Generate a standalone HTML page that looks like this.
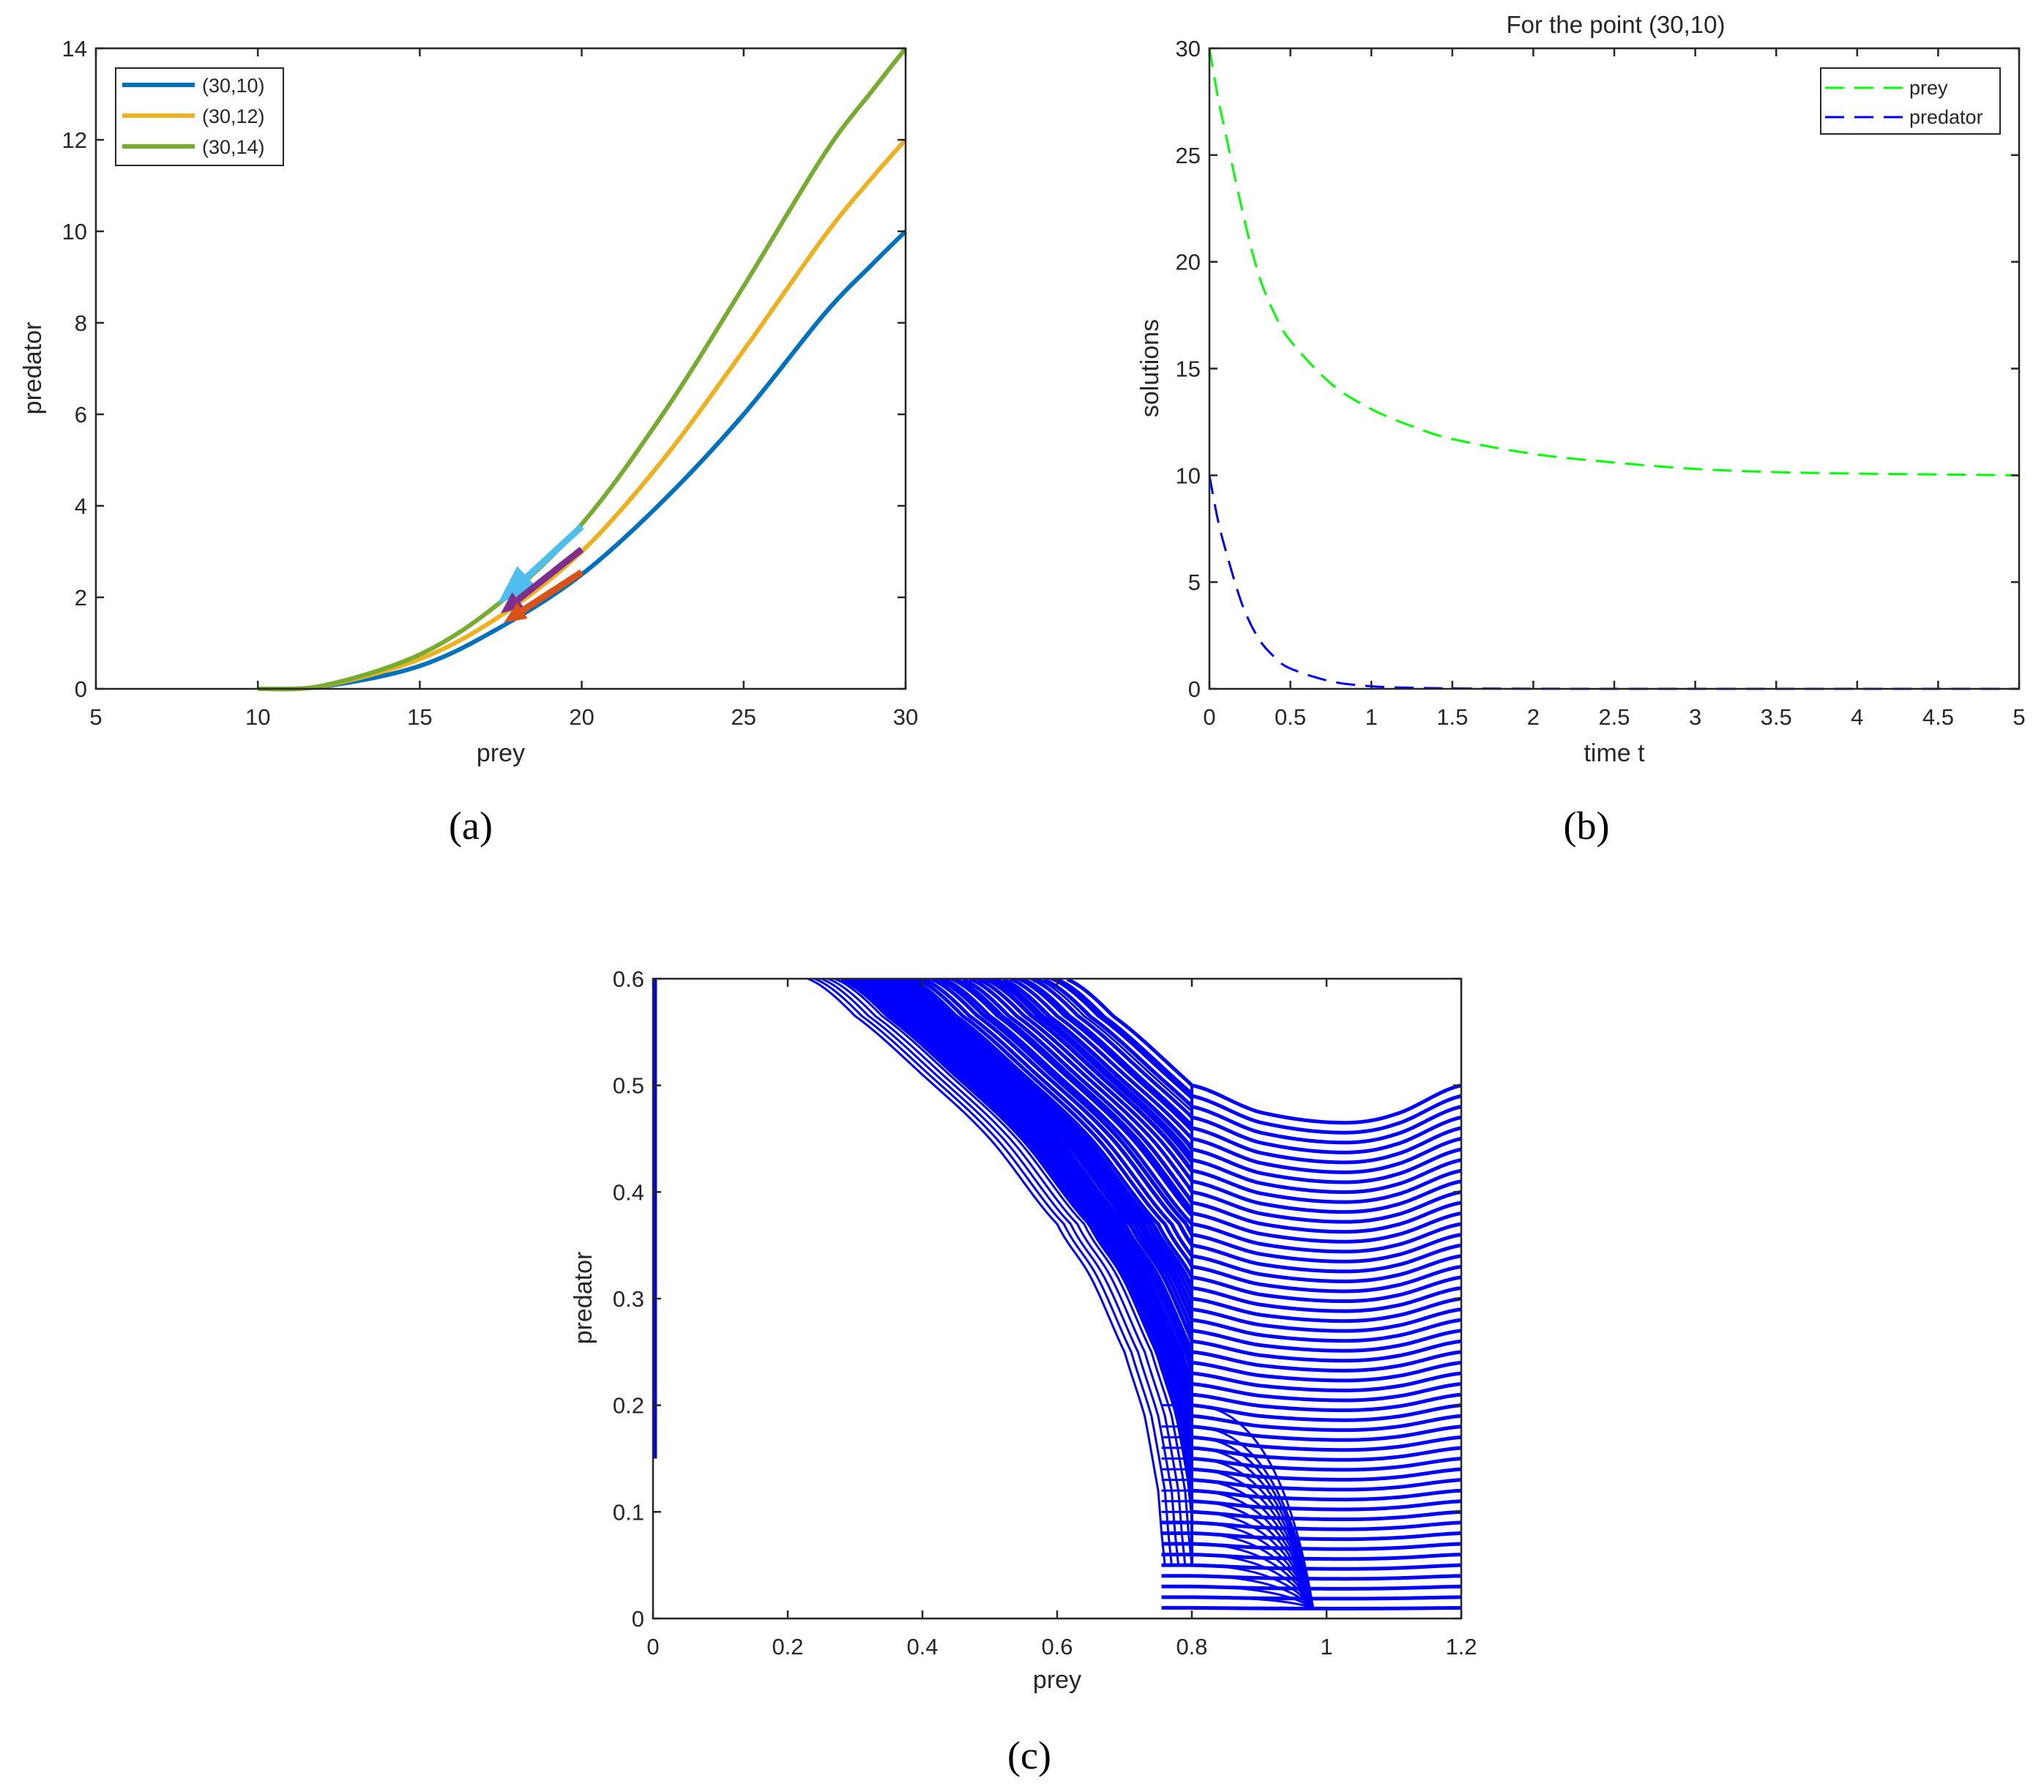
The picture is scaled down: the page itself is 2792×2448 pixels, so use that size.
<!DOCTYPE html>
<html><head><meta charset="utf-8"><style>
html,body{margin:0;padding:0;background:#fff}
svg{display:block}
text{font-family:"Liberation Sans",sans-serif;fill:#262626}
.cap{font-family:"Liberation Serif",serif;fill:#000;font-size:54px}
</style></head><body>
<svg id="fig" width="2792" height="2448" viewBox="0 0 2792 2448" xmlns="http://www.w3.org/2000/svg">
<rect width="2792" height="2448" fill="#fff"/>
</svg>
<script>
// ---- panel (a) data ----
const aX = [10,12,15,17.5,20,22.5,25,27.5,29,30];
const aBlue = [0,0.05,0.5,1.35,2.5,4.1,6.0,8.2,9.3,10];
const aOrange = [0,0.06,0.65,1.6,3.0,5.0,7.4,9.9,11.2,12];
const aGreen = [0,0.07,0.75,1.9,3.6,6.0,8.8,11.7,13.1,14];
const aXTicks = [5,10,15,20,25,30];
const aYTicks = [0,2,4,6,8,10,12,14];
const arrowStart = [[20,3.55],[20,3.05],[20,2.55]];
const arrowEnd = [[17.4,1.85],[17.5,1.65],[17.6,1.45]];
// ---- panel (b) data ----
const bT = [0,0.05,0.1,0.2,0.3,0.4,0.5,0.75,1,1.25,1.5,2,2.5,3,3.5,4,5];
const bPrey = [30,27.8,26,22.5,19.5,17.6,16.3,14.3,13.1,12.3,11.7,11,10.6,10.3,10.15,10.08,10];
const bPred = [10,8,6.5,4,2.4,1.5,0.95,0.35,0.12,0.05,0.02,0.005,0,0,0,0,0];
const bXTicks = [0,0.5,1,1.5,2,2.5,3,3.5,4,4.5,5];
const bYTicks = [0,5,10,15,20,25,30];
// ---- panel (c) data ----
const cXTicks = [0,0.2,0.4,0.6,0.8,1,1.2];
const cYTicks = [0,0.1,0.2,0.3,0.4,0.5,0.6];
const cA_y0 = [0.01,0.02,0.03,0.04,0.05,0.06,0.07,0.08,0.09,0.10,0.11,0.12,0.13,0.14,0.15,0.16,0.17,0.18,0.19,0.20,0.21,0.22,0.23,0.24,0.25,0.26,0.27,0.28,0.29,0.30,0.31,0.32,0.33,0.34,0.35,0.36,0.37,0.38,0.39,0.40,0.41,0.42,0.43,0.44,0.45,0.46,0.47,0.48,0.49,0.50];
const cA_shapeX = [0.8,0.9,1.02,1.1,1.2];
const cA_shapeF = [1.0,0.95,0.93,0.945,1.0];
const cEnvX = [0.23,0.3,0.4,0.5,0.6,0.65,0.7,0.73,0.75,0.76];
const cEnvY = [0.6,0.565,0.51,0.45,0.37,0.32,0.25,0.19,0.12,0.05];
const cB_shift = [0,0.01,0.02,0.03,0.04,0.05,0.06,0.07,0.08,0.09,0.10,0.11,0.12,0.13,0.14,0.15,0.16,0.17,0.18,0.19,0.20,0.21,0.22,0.23,0.24,0.25,0.26,0.27,0.28,0.29,0.30,0.31,0.32,0.33,0.34,0.35,0.36,0.37];
const cC_y = [0.02,0.03,0.04,0.05,0.06,0.07,0.08,0.09,0.10,0.11,0.12,0.13,0.14,0.15,0.16,0.17,0.18,0.20];

const NS = 'http://www.w3.org/2000/svg';
const svg = document.getElementById('fig');
function mk(tag, attrs, parent){const e=document.createElementNS(NS,tag);for(const k in attrs)e.setAttribute(k,attrs[k]);(parent||svg).appendChild(e);return e;}
function lin(d0,d1,r0,r1){return v=>r0+(v-d0)/(d1-d0)*(r1-r0);}
function sinterp(xs,ys,x){
  if(x<=xs[0])return ys[0];const n=xs.length;if(x>=xs[n-1])return ys[n-1];
  let i=1;while(x>xs[i])i++;const t=(x-xs[i-1])/(xs[i]-xs[i-1]);
  const p0=ys[Math.max(i-2,0)],p1=ys[i-1],p2=ys[i],p3=ys[Math.min(i+1,n-1)];
  return 0.5*((2*p1)+(-p0+p2)*t+(2*p0-5*p1+4*p2-p3)*t*t+(-p0+3*p1-3*p2+p3)*t*t*t);}
function env(x){return sinterp(cEnvX,cEnvY,x);}
function invEnv(y){for(let x=0.76;x>=0.23;x-=0.001){if(env(x)>=y)return x;}return 0.23;}
function smoothPath(pts){
  let d='M'+pts[0][0]+','+pts[0][1];
  for(let i=0;i<pts.length-1;i++){const p0=pts[i-1]||pts[i],p1=pts[i],p2=pts[i+1],p3=pts[i+2]||p2;
    d+=' C'+(p1[0]+(p2[0]-p0[0])/6)+','+(p1[1]+(p2[1]-p0[1])/6)+' '+(p2[0]-(p3[0]-p1[0])/6)+','+(p2[1]-(p3[1]-p1[1])/6)+' '+p2[0]+','+p2[1];}
  return d;}

function axes(g,L,R,T,B,sx,sy,xt,yt,fmtx,fmty){
  const box=mk('rect',{x:L,y:T,width:R-L,height:B-T,fill:'none',stroke:'#262626','stroke-width':2.5},g);
  
  
  xt.forEach(v=>{const x=sx(v);
    mk('line',{x1:x,y1:B,x2:x,y2:B-11,stroke:'#262626','stroke-width':2.5},g);
    mk('line',{x1:x,y1:T,x2:x,y2:T+11,stroke:'#262626','stroke-width':2.5},g);
    const t=mk('text',{x:x,y:B+49,'text-anchor':'middle','font-size':31},g);t.textContent=fmtx(v);
    
    });
  yt.forEach(v=>{const y=sy(v);
    mk('line',{x1:L,y1:y,x2:L+11,y2:y,stroke:'#262626','stroke-width':2.5},g);
    mk('line',{x1:R,y1:y,x2:R-11,y2:y,stroke:'#262626','stroke-width':2.5},g);
    const t=mk('text',{x:L-12,y:y+11,'text-anchor':'end','font-size':31},g);t.textContent=fmty(v);
    
    });
}
function label(g,txt,x,y,rot,name,size){const t=mk('text',{x:x,y:y,'text-anchor':'middle','font-size':size||34,transform:rot?'rotate(-90 '+x+' '+y+')':''},g);t.textContent=txt;
  
  return t;}

// ===== Panel (a) =====
{
const g=mk('g',{});


const L=131,R=1237,T=66,B=941;
const sx=lin(5,30,L,R), sy=lin(0,14,B,T);
const series=[[aBlue,'#0072BD','blue'],[aOrange,'#EDB120','orange'],[aGreen,'#77AC30','green']];
series.forEach(s=>{const pts=aX.map((x,i)=>[sx(x),sy(s[0][i])]);
  const p=mk('path',{d:smoothPath(pts),fill:'none',stroke:s[1],'stroke-width':6},g);
  
  });
const acol=['#4DBEEE','#7E2F8E','#D95319'];
arrowStart.forEach((s,i)=>{const x1=sx(s[0]),y1=sy(s[1]),x2=sx(arrowEnd[i][0]),y2=sy(arrowEnd[i][1]);
  const dx=x2-x1,dy=y2-y1,len=Math.hypot(dx,dy),ux=dx/len,uy=dy/len,hl=i==0?55:30,hw=i==0?20:13;
  const bx=x2-ux*hl,by=y2-uy*hl;
  const ln=mk('line',{x1:x1,y1:y1,x2:bx,y2:by,stroke:acol[i],'stroke-width':9},g);
  
  
  mk('polygon',{points:x2+','+y2+' '+(bx-uy*hw)+','+(by+ux*hw)+' '+(bx+uy*hw)+','+(by-ux*hw),fill:acol[i]},g);});
axes(g,L,R,T,B,sx,sy,aXTicks,aYTicks,v=>v,v=>v);
label(g,'prey',(L+R)/2,1040,false,'x-axis-title');
label(g,'predator',56,503,true,'y-axis-title');
const lg=mk('g',{},g);


mk('rect',{x:158,y:93,width:229,height:133,fill:'#fff',stroke:'#262626','stroke-width':2},lg);
['(30,10)','(30,12)','(30,14)'].forEach((t,i)=>{const y=116+i*42;
  const l=mk('line',{x1:167,y1:y,x2:266,y2:y,stroke:series[i][1],'stroke-width':6},lg);
  
  
  const tx=mk('text',{x:276,y:y+10,'font-size':27},lg);tx.textContent=t;});
const c=mk('text',{x:643,y:1146,'text-anchor':'middle',class:'cap'},g);c.textContent='(a)';


}

// ===== Panel (b) =====
{
const g=mk('g',{});


const L=1652,R=2758,T=66,B=941;
const sx=lin(0,5,L,R), sy=lin(0,30,B,T);
[[bPrey,'#00FF00','prey'],[bPred,'#0000FF','predator']].forEach(s=>{const pts=bT.map((t,i)=>[sx(t),sy(s[0][i])]);
  const p=mk('path',{d:smoothPath(pts),fill:'none',stroke:s[1],'stroke-width':3,'stroke-dasharray':'26,14'},g);
  
  });
axes(g,L,R,T,B,sx,sy,bXTicks,bYTicks,v=>v,v=>v);
label(g,'For the point (30,10)',2207,45,false,'chart-title',33);
label(g,'time t',(L+R)/2,1040,false,'x-axis-title');
label(g,'solutions',1582,503,true,'y-axis-title');
const lg=mk('g',{},g);


mk('rect',{x:2487,y:93,width:245,height:90,fill:'#fff',stroke:'#262626','stroke-width':2},lg);
[['prey','#00FF00'],['predator','#0000FF']].forEach((s,i)=>{const y=120+i*40;
  const l=mk('line',{x1:2493,y1:y,x2:2600,y2:y,stroke:s[1],'stroke-width':3,'stroke-dasharray':'26,14'},lg);
  
  
  const tx=mk('text',{x:2608,y:y+9,'font-size':27},lg);tx.textContent=s[0];});
const c=mk('text',{x:2167,y:1146,'text-anchor':'middle',class:'cap'},g);c.textContent='(b)';


}

// ===== Panel (c) =====
{
const g=mk('g',{});


const L=892,R=1996,T=1337,B=2211;
const sx=lin(0,1.2,L,R), sy=lin(0,0.6,B,T);
const clip=mk('clipPath',{id:'cclip'},g);mk('rect',{x:L,y:T,width:R-L,height:B-T},clip);
const pg=mk('g',{'clip-path':'url(#cclip)'},g);
cB_shift.forEach(s=>{const pts=[];for(let x=0.23+s;x<=Math.min(0.8,0.76+s)+1e-9;x+=0.005){pts.push([sx(x),sy(env(x-s))]);}
  if(pts.length<2)return;
  const p=mk('polyline',{points:pts.map(p=>p.join(',')).join(' '),fill:'none',stroke:'#0000FF','stroke-width':3},pg);
  
  });
cC_y.forEach(y0=>{const x0=sx(0.755),y0p=sy(y0);
  const p=mk('path',{d:'M'+x0+','+y0p+' L'+sx(0.8)+','+y0p+' Q'+sx(0.93)+','+y0p+' '+sx(0.98)+','+sy(0.01),fill:'none',stroke:'#0000FF','stroke-width':3},pg);
  
  });
cA_y0.forEach(y0=>{const pts=[];
  for(let x=1.2;x>=0.8-1e-9;x-=0.005){pts.push([sx(x),sy(y0*sinterp(cA_shapeX,cA_shapeF,x))]);}
  const y80=y0*cA_shapeF[0];
  if(y80>=0.1){const s=0.8-invEnv(y80);
    for(let x=0.795;x>=0.23+s-1e-9;x-=0.005){const y=env(x-s);pts.push([sx(x),sy(y)]);if(y>0.6)break;}}
  else{pts.push([sx(0.755),sy(y80)]);}
  const p=mk('polyline',{points:pts.map(p=>p.join(',')).join(' '),fill:'none',stroke:'#0000FF','stroke-width':5,'stroke-linejoin':'round'},pg);
  
  });
const v1=mk('line',{x1:sx(0.8),y1:sy(0.05),x2:sx(0.8),y2:sy(0.5),stroke:'#0000FF','stroke-width':4},pg);


const v0=mk('line',{x1:sx(0.002),y1:sy(0.15),x2:sx(0.002),y2:sy(0.6),stroke:'#0000FF','stroke-width':7},pg);


axes(g,L,R,T,B,sx,sy,cXTicks,cYTicks,v=>String(v),v=>String(v));
label(g,'prey',(L+R)/2,2306,false,'x-axis-title');
label(g,'predator',808,1773,true,'y-axis-title');
const c=mk('text',{x:1406,y:2416,'text-anchor':'middle',class:'cap'},g);c.textContent='(c)';


}
</script>
</body></html>
